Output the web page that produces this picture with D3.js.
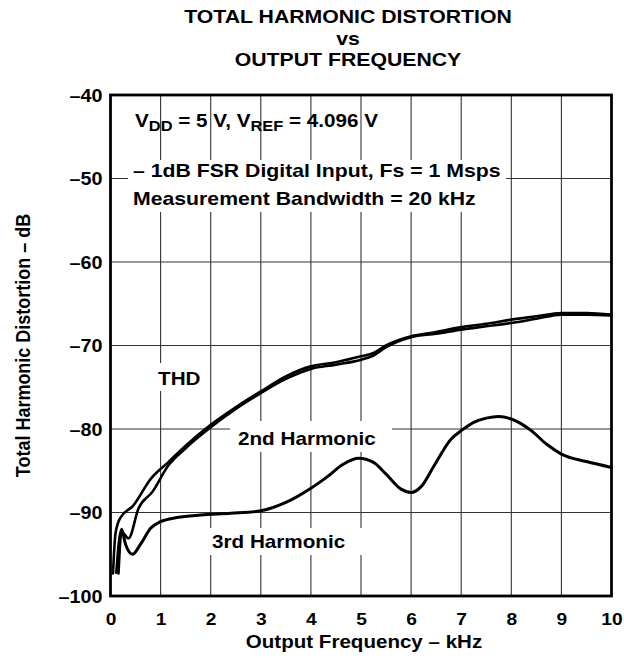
<!DOCTYPE html>
<html>
<head>
<meta charset="utf-8">
<script src="https://cdn.jsdelivr.net/npm/d3@7"></script>
<style>
  html, body { margin: 0; padding: 0; background: #fff; }
  svg { display: block; }
  text { font-family: "Liberation Sans", Arial, Helvetica, sans-serif; font-weight: bold; fill: #000; }
</style>
</head>
<body>
<svg id="chart" width="624" height="658"></svg>
<script>
// Output frequency (kHz) vs distortion (dB)
const xTicks = [0, 1, 2, 3, 4, 5, 6, 7, 8, 9, 10];
const yTicks = [-40, -50, -60, -70, -80, -90, -100];

const thd = [
  [0.05, -97.3], [0.1, -92.5], [0.2, -90.6], [0.45, -89.2], [0.8, -86.0],
  [1.15, -84.0], [1.5, -82.0], [2.0, -79.5], [2.5, -77.4], [3.0, -75.5],
  [3.5, -73.7], [4.0, -72.5], [4.5, -72.0], [5.0, -71.3], [5.25, -70.9],
  [5.5, -70.0], [6.0, -68.9], [6.5, -68.4], [7.0, -67.8], [7.5, -67.4],
  [8.0, -66.9], [8.5, -66.5], [9.0, -66.1], [9.5, -66.1], [10.0, -66.3]
];

const secondHarmonic = [
  [0.16, -97.3], [0.22, -92.3], [0.36, -93.1], [0.56, -89.5], [0.84, -87.5],
  [1.15, -84.4], [1.5, -82.3], [2.0, -79.8], [2.5, -77.6], [3.0, -75.7],
  [3.5, -74.0], [4.0, -72.8], [4.5, -72.3], [5.0, -71.7], [5.25, -71.2],
  [5.5, -70.2], [6.0, -69.0], [6.5, -68.6], [7.0, -68.1], [7.5, -67.7],
  [8.0, -67.3], [8.5, -66.8], [9.0, -66.3], [9.5, -66.3], [10.0, -66.4]
];

const thirdHarmonic = [
  [0.12, -97.2], [0.22, -92.0], [0.3, -93.8], [0.44, -95.0], [0.6, -93.8],
  [0.8, -91.9], [1.0, -91.1], [1.33, -90.6], [1.8, -90.3], [2.4, -90.1],
  [3.0, -89.8], [3.5, -88.8], [4.0, -87.1], [4.33, -85.7], [4.65, -84.2],
  [4.95, -83.5], [5.25, -84.0], [5.5, -85.4], [5.8, -87.2], [6.0, -87.6],
  [6.2, -86.9], [6.45, -84.5], [6.8, -81.2], [7.0, -80.2], [7.25, -79.2],
  [7.5, -78.7], [7.75, -78.5], [8.0, -78.8], [8.4, -80.2], [8.7, -81.8],
  [9.0, -83.0], [9.5, -83.9], [10.0, -84.6]
];

const titleLines = ["TOTAL HARMONIC DISTORTION", "vs", "OUTPUT FREQUENCY"];

// Layout
const plotL = 110.5, plotR = 611.5, plotT = 95, plotB = 596;
const SX = 1.13; // horizontal text stretch

const svg = d3.select("#chart");
const x = d3.scaleLinear().domain([0, 10]).range([plotL, plotR]);
const y = d3.scaleLinear().domain([-100, -40]).range([plotB, plotT]);

// Grid
const grid = svg.append("g").attr("stroke", "#333").attr("stroke-width", 1.1);
grid.selectAll("line.v").data(xTicks.slice(1, -1)).join("line")
  .attr("x1", d => x(d)).attr("x2", d => x(d)).attr("y1", plotT).attr("y2", plotB);
grid.selectAll("line.h").data(yTicks.slice(1, -1)).join("line")
  .attr("x1", plotL).attr("x2", plotR).attr("y1", d => y(d)).attr("y2", d => y(d));

// Helper for stretched text
function label(g, str, tx, ty, size, anchor) {
  return g.append("text")
    .attr("transform", `translate(${tx},${ty}) scale(${SX},1)`)
    .attr("text-anchor", anchor || "start")
    .attr("font-size", size)
    .text(str);
}

// Annotation backgrounds (white boxes hide grid)
const boxes = svg.append("g").attr("fill", "#fff");
boxes.append("rect").attr("x", 128).attr("y", 160).attr("width", 378).attr("height", 52);
boxes.append("rect").attr("x", 153).attr("y", 363).attr("width", 52).attr("height", 28);
boxes.append("rect").attr("x", 230).attr("y", 421).attr("width", 162).attr("height", 31);
boxes.append("rect").attr("x", 206).attr("y", 528).attr("width", 156).attr("height", 27);

// Curves
const line = d3.line().x(d => x(d[0])).y(d => y(d[1])).curve(d3.curveMonotoneX);
const curves = svg.append("g").attr("fill", "none").attr("stroke", "#000")
  .attr("stroke-linejoin", "round").attr("stroke-linecap", "round");
curves.append("path").datum(thirdHarmonic).attr("d", line).attr("stroke-width", 3);
curves.append("path").datum(secondHarmonic).attr("d", line).attr("stroke-width", 2.6);
curves.append("path").datum(thd).attr("d", line).attr("stroke-width", 2.6);

// Frame
svg.append("rect").attr("x", plotL).attr("y", plotT)
  .attr("width", plotR - plotL).attr("height", plotB - plotT)
  .attr("fill", "none").attr("stroke", "#000").attr("stroke-width", 2.8);

// Axes labels
const axes = svg.append("g");
const xAxis = d3.axisBottom(x).tickValues(xTicks).tickSize(0).tickPadding(0);
const gx = axes.append("g").attr("transform", `translate(0,${plotB})`).call(xAxis);
gx.select(".domain").remove();
gx.selectAll(".tick text")
  .attr("y", 0).attr("dy", null)
  .attr("transform", `translate(0,29) scale(${SX},1)`)
  .attr("font-size", 17).attr("font-family", null).attr("fill", "#000");

const yAxis = d3.axisLeft(y).tickValues(yTicks).tickSize(0).tickPadding(0)
  .tickFormat(d => String(d).replace("-", "\u2013"));
const gy = axes.append("g").attr("transform", `translate(${plotL - 8},0)`).call(yAxis);
gy.select(".domain").remove();
gy.selectAll(".tick text")
  .attr("x", 0).attr("dy", null)
  .attr("transform", `translate(0,6) scale(${SX},1)`)
  .attr("font-size", 17.5).attr("font-family", null).attr("fill", "#000");

// Titles
const tg = svg.append("g");
label(tg, titleLines[0], 348, 23, 18.8, "middle");
label(tg, titleLines[1], 348, 45, 18.8, "middle");
label(tg, titleLines[2], 348, 66, 18.8, "middle");
label(tg, "Output Frequency \u2013 kHz", (plotL + plotR) / 2 + 3, 648, 18.2, "middle");
tg.append("text")
  .attr("transform", `translate(30,${(plotT + plotB) / 2}) scale(${SX},1) rotate(-90)`)
  .attr("text-anchor", "middle").attr("font-size", 18)
  .text("Total Harmonic Distortion \u2013 dB");

// Annotations
const ag = svg.append("g");
const v = ag.append("text")
  .attr("transform", `translate(135,127) scale(${SX},1)`)
  .attr("font-size", 18.3);
v.append("tspan").text("V");
v.append("tspan").attr("dy", 4).attr("font-size", 14.5).text("DD");
v.append("tspan").attr("dy", -4).text(" = 5 V, V");
v.append("tspan").attr("dy", 4).attr("font-size", 14.5).text("REF");
v.append("tspan").attr("dy", -4).text(" = 4.096 V");
label(ag, "\u2013 1dB FSR Digital Input, Fs = 1 Msps", 133, 177, 18.8);
label(ag, "Measurement Bandwidth = 20 kHz", 133, 205, 18.8);
label(ag, "THD", 158, 385, 18.3);
label(ag, "2nd Harmonic", 238, 445, 18.3);
label(ag, "3rd Harmonic", 212, 548, 18.3);
</script>
</body>
</html>
